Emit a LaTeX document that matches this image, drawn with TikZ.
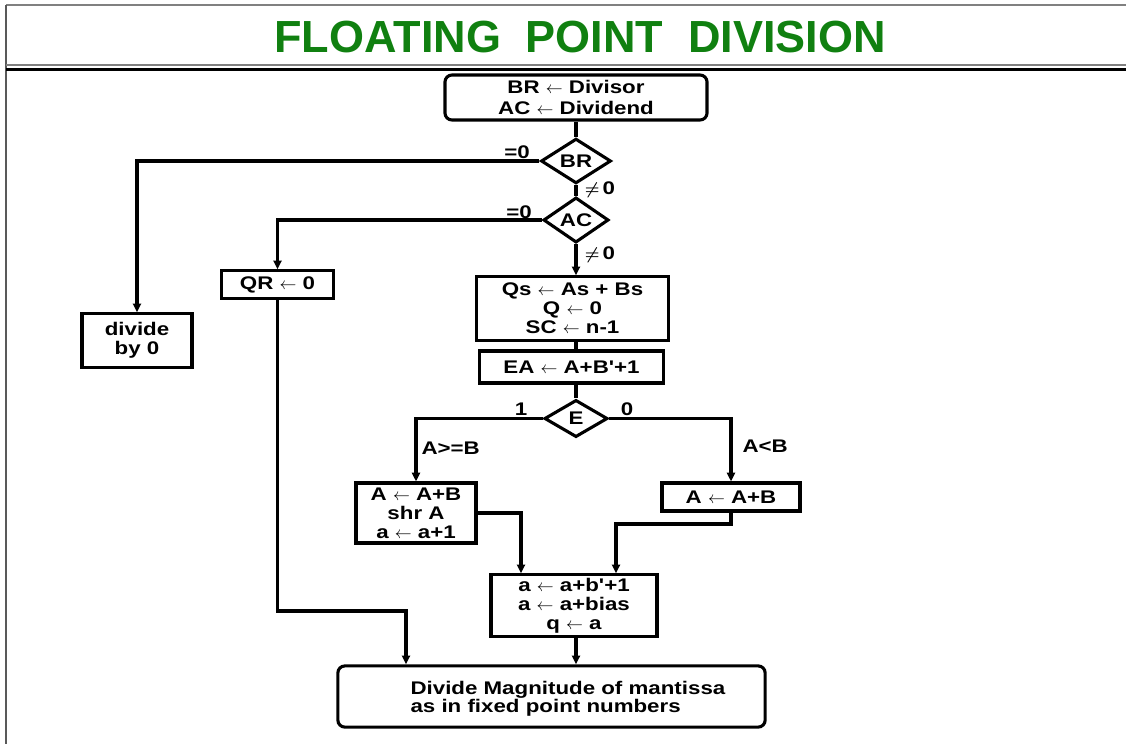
\documentclass[tikz,border=0pt]{standalone}
\usepackage{amsmath}
\usepackage{amssymb}
\usepackage{xcolor}
\usepackage{fontspec}
\setmainfont{Liberation Sans}
\newfontfamily\boxfont[FakeStretch=1.22]{Liberation Sans}
\usepackage{tikz}
\usetikzlibrary{arrows.meta,shapes.geometric}

\definecolor{titlegreen}{RGB}{16,128,16}

\begin{document}
\begin{tikzpicture}[x=0.025cm,y=-0.025cm,>={Triangle[length=2.2mm,width=2mm]},
  line width=2.2pt,
  box/.style={draw,line width=2.2pt,inner sep=1pt,align=center,font=\boxfont\bfseries\fontsize{13}{13.5}\selectfont},
  rbox/.style={box,rounded corners=5pt},
  dec/.style={draw,diamond,line width=2.2pt,inner sep=0pt,font=\boxfont\bfseries\fontsize{13}{13}\selectfont},
  lbl/.style={font=\boxfont\bfseries\fontsize{13}{13}\selectfont,inner sep=0pt}]
  \useasboundingbox (0,0) rectangle (1126,744);
  % frame and heading
  \draw[gray,line width=0.8pt] (6,5) -- (1126,5);
  \draw[gray!70!black,line width=0.8pt] (6,5) -- (6,744);
  \draw[gray,line width=0.8pt] (6,65) -- (1126,65);
  \draw[black,line width=2.6pt] (6,69.5) -- (1126,69.5);
  \node[titlegreen,font=\bfseries\fontsize{32}{32}\selectfont] (title) at (580,37) {FLOATING\hspace{0.55em}POINT\hspace{0.55em}DIVISION};
  % boxes
  \node[rbox,minimum width=6.55cm,minimum height=1.125cm,font=\boxfont\bfseries\fontsize{13}{15}\selectfont] (start) at (576,97.5) {BR $\leftarrow$ Divisor\\AC $\leftarrow$ Dividend};
  \node[dec,minimum width=1.75cm,minimum height=1.0cm] (br) at (576,161) {BR};
  \node[dec,minimum width=1.63cm,minimum height=1.1cm] (ac) at (576,220) {AC};
  \node[box,minimum width=2.75cm,minimum height=1.33cm] (dz) at (137,340.5) {divide\\by 0};
  \node[box,minimum width=2.78cm,minimum height=0.68cm] (qr) at (277.5,284.5) {QR $\leftarrow$ 0};
  \node[box,minimum width=4.78cm,minimum height=1.58cm] (qs) at (572.5,308.5) {Qs $\leftarrow$ As + Bs\\Q $\leftarrow$ 0\\SC $\leftarrow$ n-1};
  \node[box,minimum width=4.58cm,minimum height=0.8cm] (ea) at (571.5,367) {EA $\leftarrow$ A+B'+1};
  \node[dec,minimum width=1.58cm,minimum height=0.93cm] (e) at (576,418.5) {E};
  \node[box,minimum width=3.0cm,minimum height=1.5cm] (lb) at (416,513) {A $\leftarrow$ A+B\\shr A\\a $\leftarrow$ a+1};
  \node[box,minimum width=3.45cm,minimum height=0.7cm] (rb) at (731,497) {A $\leftarrow$ A+B};
  \node[box,minimum width=4.15cm,minimum height=1.53cm] (mid) at (574,605.5) {a $\leftarrow$ a+b'+1\\a $\leftarrow$ a+bias\\q $\leftarrow$ a};
  \node[rbox,minimum width=10.68cm,minimum height=1.53cm] (fin) at (551.5,696.5) {};
  \node[lbl,anchor=west,align=left] (fintext) at (409,699) {Divide Magnitude of mantissa\\as in fixed point numbers};
  % labels
  \node[lbl] (l1) at (517,152) {=0};
  \node[lbl] (l2) at (600,190) {$\boldsymbol{\neq}$\,0};
  \node[lbl] (l3) at (519,212) {=0};
  \node[lbl] (l4) at (600,255) {$\boldsymbol{\neq}$\,0};
  \node[lbl] (l5) at (521,409) {1};
  \node[lbl] (l6) at (627,409) {0};
  \node[lbl,anchor=west] (l7) at (420,448) {A>=B};
  \node[lbl,anchor=west] (l8) at (741,446) {A<B};
  % joints
  \coordinate (j1) at (406,611);
  \coordinate (j2) at (616,524);
  \coordinate (j3) at (521,0);
  % connectors
  \draw (start) -- (br);
  \draw[->] (br.west) -| (dz.north);
  \draw (br) -- (ac);
  \draw[->] (ac.south) -- (ac.south |- qs.north);
  \draw[->] (ac.west) -| (qr.north);
  \draw (qs.south -| e) -- (ea.north -| e);
  \draw (ea.south -| e) -- (e);
  \draw[->] (e.west) -| (lb.north);
  \draw[->] (e.east) -| (rb.north);
  \draw[->] (lb.east) -| (j3 |- mid.north);
  \draw[->] (rb.south) |- (j2) -- (j2 |- mid.north);
  \draw[->] (qr.south) |- (j1) -- (j1 |- fin.north);
  \draw[->] (mid.south -| e) -- (fin.north -| e);
\end{tikzpicture}
\end{document}
